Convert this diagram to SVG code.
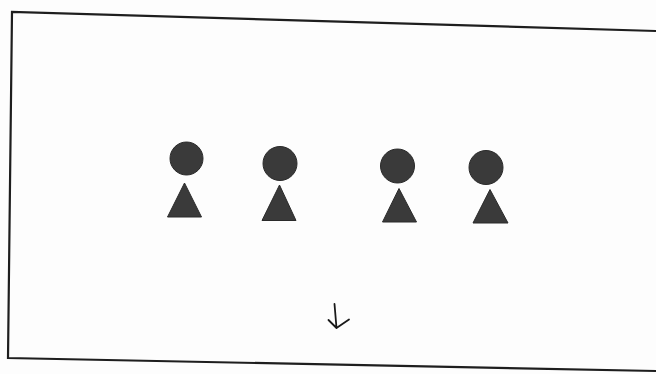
<svg xmlns="http://www.w3.org/2000/svg" width="656" height="374" viewBox="0 0 656 374">
<style>
.frame{fill:none;stroke:#1e1e1e;stroke-width:2.2;stroke-linejoin:miter}
.dot{fill:#3a3a3a;stroke:#2a2a2a;stroke-width:1}
.tri{fill:#3a3a3a;stroke:#2a2a2a;stroke-width:1;stroke-linejoin:round}
.arrow{fill:none;stroke:#1a1a1a;stroke-width:1.8;stroke-linecap:round;stroke-linejoin:round}
</style>
<rect width="656" height="374" fill="#fdfdfd"/>
<g id="frame">
<polyline class="frame" points="656,31 12,12 8,358 656,371"/>
</g>
<g id="figure1">
<circle class="dot" cx="186.5" cy="158.5" r="16.5"/>
<polygon class="tri" points="184.5,183 167.5,217 201.5,217"/>
</g>
<g id="figure2">
<circle class="dot" cx="280" cy="163.5" r="17"/>
<polygon class="tri" points="279.5,185 262,220.5 296,220.5"/>
</g>
<g id="figure3">
<circle class="dot" cx="397.5" cy="166" r="17"/>
<polygon class="tri" points="399,188.5 382.5,222 416.5,222"/>
</g>
<g id="figure4">
<circle class="dot" cx="486" cy="167.5" r="17"/>
<polygon class="tri" points="490,189.5 473,223 508,223"/>
</g>
<g id="connectors">
<path class="arrow" d="M334.5,304 L336.5,328 M328.5,320 L336.5,328 L349,319.5"/>
</g>
</svg>
